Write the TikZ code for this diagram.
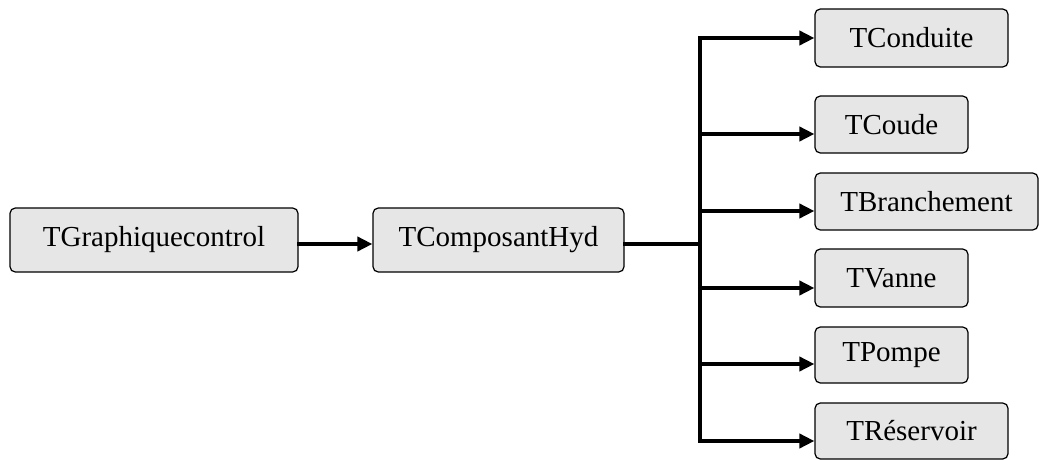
\documentclass[tikz,border=0pt]{standalone}
\usepackage{fontspec}
\setmainfont{Liberation Serif}
\usetikzlibrary{arrows.meta}
\definecolor{boxgray}{HTML}{E6E6E6}

\begin{document}
\begin{tikzpicture}[line cap=rect,line join=miter,x=0.02cm,y=-0.02cm,
  classe/.style={draw=black,fill=boxgray,line width=0.7pt,rounded corners=3pt,
    inner sep=0pt,font=\fontsize{16.5}{20}\selectfont},
  lien/.style={line width=2pt},
  >={Triangle[length=8.5pt,width=8pt]}]
		\useasboundingbox (0,0) rectangle (1039,460);
		% boites
		\node[classe,minimum width=288*0.02cm,minimum height=64*0.02cm] (graph) at (154,240) {TGraphiquecontrol};
		\node[classe,minimum width=251*0.02cm,minimum height=64*0.02cm] (comp) at (498.5,240) {TComposantHyd};
		\node[classe,minimum width=193*0.02cm,minimum height=58*0.02cm] (cond) at (911.5,38) {TConduite};
		\node[classe,minimum width=153*0.02cm,minimum height=57*0.02cm] (coude) at (891.5,124.5) {TCoude};
		\node[classe,minimum width=223*0.02cm,minimum height=57*0.02cm] (branch) at (926.5,201.5) {TBranchement};
		\node[classe,minimum width=153*0.02cm,minimum height=58*0.02cm] (vanne) at (891.5,278) {TVanne};
		\node[classe,minimum width=153*0.02cm,minimum height=56*0.02cm] (pompe) at (891.5,355) {TPompe};
		\node[classe,minimum width=193*0.02cm,minimum height=56*0.02cm] (reserv) at (911.5,431) {TRéservoir};
		% points du bus
		\coordinate (hub) at (700,244);
		\coordinate (b1) at (700,38);
		\coordinate (b2) at (700,134);
		\coordinate (b3) at (700,211);
		\coordinate (b4) at (700,288);
		\coordinate (b5) at (700,364);
		\coordinate (b6) at (700,441);
		% liens
		\draw[lien,->] (hub -| graph.east) -- (hub -| comp.west);
		\draw[lien] (hub -| comp.east) -- (hub);
		\draw[lien,<->] (b6 -| reserv.west) -- (b6) -- (b1) -- (b1 -| cond.west);
		\draw[lien,->] (b2) -- (b2 -| coude.west);
		\draw[lien,->] (b3) -- (b3 -| branch.west);
		\draw[lien,->] (b4) -- (b4 -| vanne.west);
		\draw[lien,->] (b5) -- (b5 -| pompe.west);
\end{tikzpicture}
\end{document}
